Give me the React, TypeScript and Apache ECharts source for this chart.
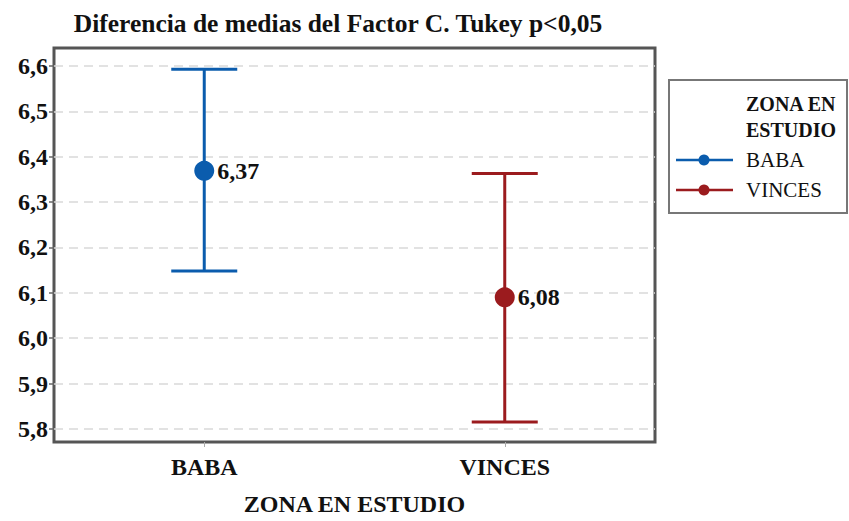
import React, { useEffect, useRef } from "react";
import * as echarts from "echarts";

const categories = ["BABA", "VINCES"];
const means = [6.369, 6.09];
const meanLabels = ["6,37", "6,08"];
const upper = [6.593, 6.363];
const lower = [6.148, 5.815];
const colors = ["#0b5cad", "#9b1b1e"];
const yMin = 5.771;
const yMax = 6.64;

const FONT = "'Liberation Serif', 'Times New Roman', serif";

export default function App() {
  const ref = useRef<HTMLDivElement>(null);
  useEffect(() => {
    if (!ref.current) return;
    const chart = echarts.init(ref.current, null, { renderer: "svg" });
    const errData = categories.map((c, i) => [i, lower[i], upper[i], means[i]]);
    const option: any = {
      animation: false,
      backgroundColor: "#ffffff",
      title: {
        text: "Diferencia de medias del Factor C. Tukey p<0,05",
        left: 333,
        textAlign: "center",
        top: 5,
        textStyle: { fontFamily: FONT, fontWeight: "bold", fontSize: 25.5, color: "#111" },
      },
      grid: {
        left: 54,
        right: 194,
        top: 48,
        bottom: 79,
        show: true,
        containLabel: false,
        outerBoundsMode: "none",
        borderColor: "#555",
        borderWidth: 3,
        backgroundColor: "#ffffff",
      },
      xAxis: {
        type: "category",
        data: categories,
        boundaryGap: true,
        name: "ZONA EN ESTUDIO",
        nameLocation: "middle",
        nameGap: 50,
        nameTextStyle: { fontFamily: FONT, fontWeight: "bold", fontSize: 24, color: "#111" },
        axisLine: { show: false },
        axisTick: { show: true, alignWithLabel: true, length: 5, lineStyle: { color: "#aaa" } },
        axisLabel: { fontFamily: FONT, fontWeight: "bold", fontSize: 24, color: "#111", margin: 13 },
        splitLine: { show: false },
      },
      yAxis: {
        type: "value",
        min: yMin,
        max: yMax,
        splitNumber: 8,
        axisLine: { show: false },
        axisTick: { show: true, length: 5, lineStyle: { color: "#666", width: 1.5 } },
        axisLabel: {
          fontFamily: FONT,
          fontWeight: "bold",
          fontSize: 24,
          color: "#111",
          margin: 6,
          showMinLabel: false,
          showMaxLabel: false,
          formatter: (v: number) => v.toFixed(1).replace(".", ","),
        },
        splitLine: {
          show: true,
          showMinLine: false,
          showMaxLine: false,
          lineStyle: { color: "#d9d9d9", type: [9, 6], width: 1.5 },
        },
      },
      series: [
        {
          type: "custom",
          data: errData,
          z: 3,
          renderItem: (params: any, api: any) => {
            const idx = api.value(0);
            const x = api.coord([idx, api.value(1)])[0];
            const yLow = api.coord([idx, api.value(1)])[1];
            const yHigh = api.coord([idx, api.value(2)])[1];
            const half = 33;
            const col = colors[params.dataIndex];
            const st = { stroke: col, lineWidth: 3 };
            return {
              type: "group",
              children: [
                { type: "line", shape: { x1: x, y1: yLow, x2: x, y2: yHigh }, style: st },
                { type: "line", shape: { x1: x - half, y1: yLow, x2: x + half, y2: yLow }, style: st },
                { type: "line", shape: { x1: x - half, y1: yHigh, x2: x + half, y2: yHigh }, style: st },
              ],
            };
          },
          encode: { x: 0, y: [1, 2] },
        },
        {
          type: "scatter",
          z: 4,
          symbol: "circle",
          symbolSize: 20,
          itemStyle: { opacity: 1 },
          data: categories.map((c, i) => ({
            value: [i, means[i]],
            itemStyle: { color: colors[i], opacity: 1 },
            label: {
              show: true,
              position: "right",
              distance: 3,
              formatter: meanLabels[i],
              fontFamily: FONT,
              fontWeight: "bold",
              fontSize: 24,
              color: "#111",
            },
          })),
        },
      ],
      graphic: [
        {
          type: "rect",
          shape: { x: 669, y: 80, width: 178, height: 133 },
          style: { fill: "#fff", stroke: "#777", lineWidth: 2 },
        },
        {
          type: "text",
          x: 746,
          y: 91,
          style: { text: "ZONA EN\nESTUDIO", fontFamily: FONT, fontWeight: "bold", fontSize: 20, lineHeight: 26, fill: "#111" },
        },
        { type: "line", shape: { x1: 676, y1: 160, x2: 733, y2: 160 }, style: { stroke: colors[0], lineWidth: 2.5 } },
        { type: "circle", shape: { cx: 704, cy: 160, r: 5.5 }, style: { fill: colors[0] } },
        {
          type: "text",
          x: 746,
          y: 160,
          style: { text: categories[0], fontFamily: FONT, fontSize: 21, fill: "#111", verticalAlign: "middle" },
        },
        { type: "line", shape: { x1: 676, y1: 190, x2: 733, y2: 190 }, style: { stroke: colors[1], lineWidth: 2.5 } },
        { type: "circle", shape: { cx: 704, cy: 190, r: 5.5 }, style: { fill: colors[1] } },
        {
          type: "text",
          x: 746,
          y: 190,
          style: { text: categories[1], fontFamily: FONT, fontSize: 21, fill: "#111", verticalAlign: "middle" },
        },
      ],
    };
    chart.setOption(option);
    return () => chart.dispose();
  }, []);
  return <div ref={ref} style={{ width: 849, height: 521, position: "absolute", left: 0, top: 0 }} />;
}
